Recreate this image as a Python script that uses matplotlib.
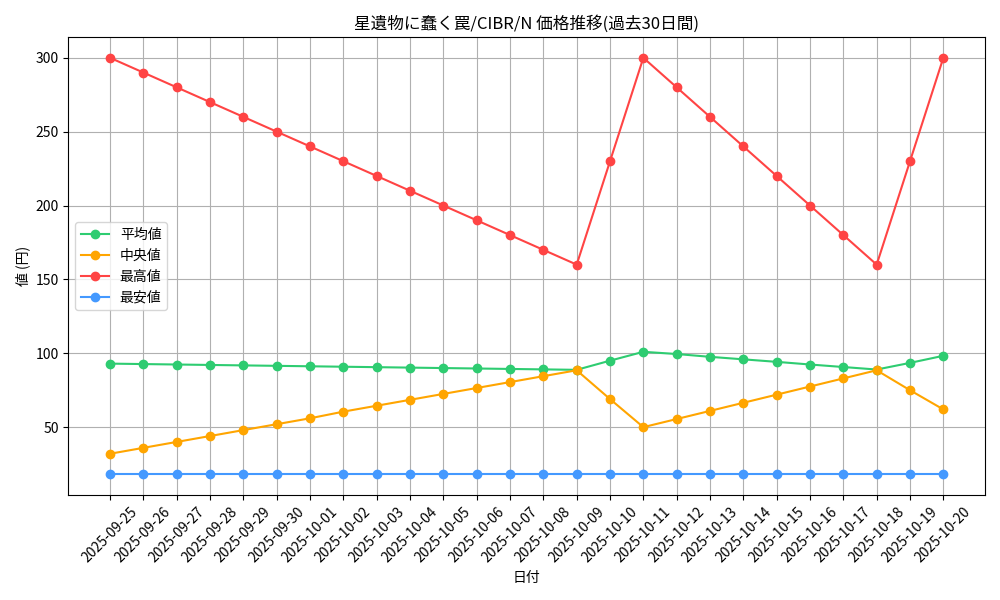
import matplotlib
matplotlib.use('Agg')
from matplotlib import pyplot as plt

plt.rcParams['font.family'] = ['Noto Sans CJK JP', 'DejaVu Sans']

dates = ['2025-09-25', '2025-09-26', '2025-09-27', '2025-09-28', '2025-09-29', '2025-09-30',
         '2025-10-01', '2025-10-02', '2025-10-03', '2025-10-04', '2025-10-05', '2025-10-06',
         '2025-10-07', '2025-10-08', '2025-10-09', '2025-10-10', '2025-10-11', '2025-10-12',
         '2025-10-13', '2025-10-14', '2025-10-15', '2025-10-16', '2025-10-17', '2025-10-18',
         '2025-10-19', '2025-10-20']
avg_vals = [93, 92.7, 92.4, 92.1, 91.8, 91.5, 91.2, 90.9, 90.6, 90.3, 90, 89.7, 89.4, 89.1,
            88.8, 95, 101, 99.5, 97.6, 95.9, 94.2, 92.4, 90.7, 89, 93.5, 98.3]
med_vals = [32, 36, 40, 44, 48, 52, 56, 60.5, 64.5, 68.5, 72.5, 76.5, 80.5, 84.5, 88.5,
            69, 50, 55.5, 61, 66.5, 72, 77.5, 83, 88.5, 75, 62]
max_vals = [300, 290, 280, 270, 260, 250, 240, 230, 220, 210, 200, 190, 180, 170, 160,
            230, 300, 280, 260, 240, 220, 200, 180, 160, 230, 300]
min_vals = [18] * 26

fig, ax = plt.subplots(figsize=(10, 6), dpi=100)
ax.plot(dates, avg_vals, marker='o', color='#2ecc71', label='平均値')
ax.plot(dates, med_vals, marker='o', color='#ffa500', label='中央値')
ax.plot(dates, max_vals, marker='o', color='#ff4444', label='最高値')
ax.plot(dates, min_vals, marker='o', color='#4499ff', label='最安値')

ax.set_title('星遺物に蠢く罠/CIBR/N 価格推移(過去30日間)')
ax.set_xlabel('日付')
ax.set_ylabel('値 (円)')
ax.grid(True)
ax.legend(loc='center left')
plt.xticks(rotation=45)
plt.tight_layout()
plt.savefig('out.png')
